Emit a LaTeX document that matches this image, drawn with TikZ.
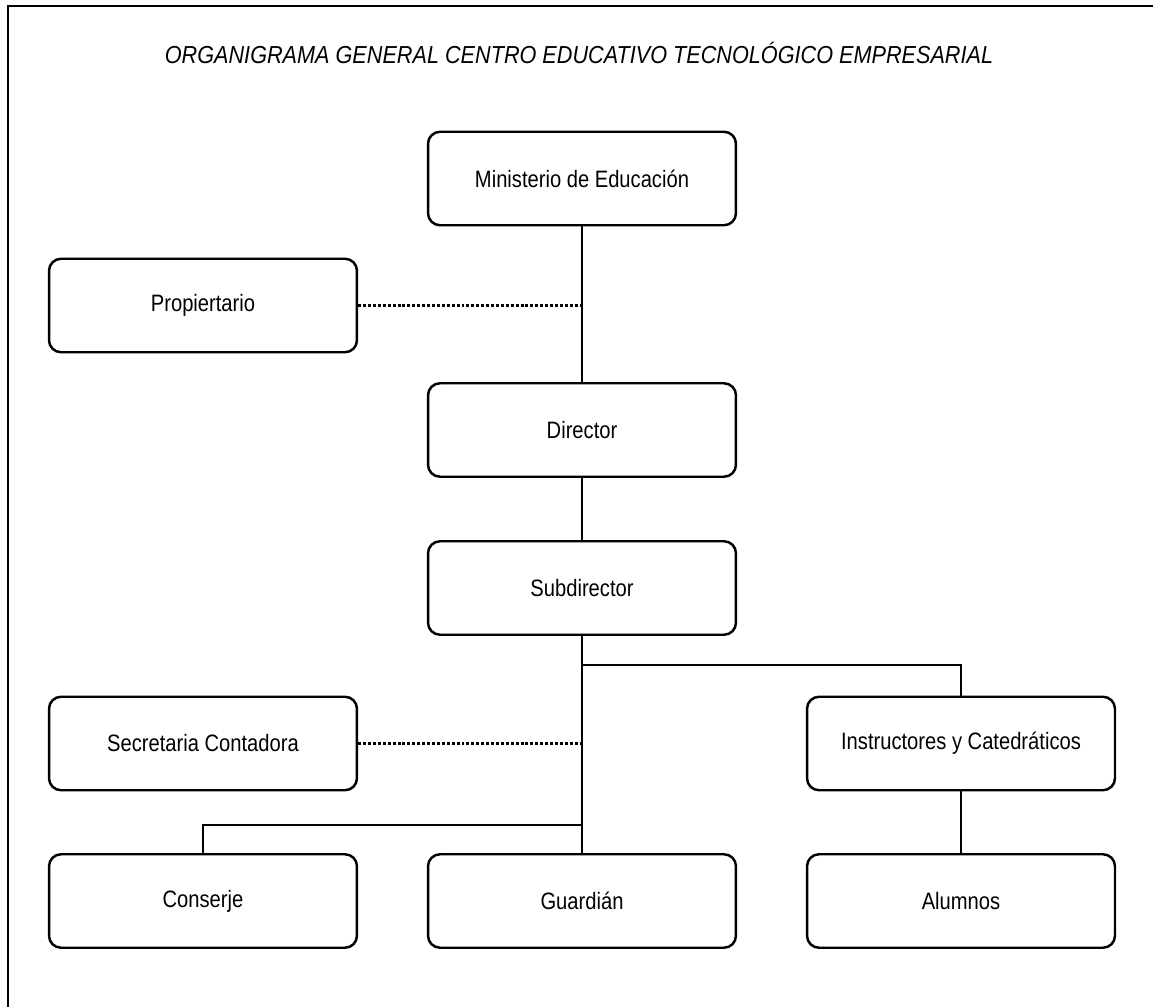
\documentclass[tikz,border=0pt]{standalone}
\usepackage{fontspec}
\setmainfont{Liberation Sans}
\newfontfamily\cargofont{Liberation Sans}[FakeStretch=0.85]
\newfontfamily\titulofont{Liberation Sans}[FakeStretch=0.88]
\usetikzlibrary{positioning}

\tikzset{
  cargo/.style={draw, line width=1.4pt, rounded corners=0.24cm, fill=white,
    minimum width=6.16cm, minimum height=1.87cm, inner sep=0pt,
    font=\cargofont\fontsize{13.5}{16}\selectfont},
  linea/.style={line width=1.1pt},
  punteado/.style={line width=1.7pt, dash pattern=on 1.7pt off 1.1pt},
  marco/.style={line width=1.7pt}
}

\begin{document}
\begin{tikzpicture}[x=0.02cm, y=-0.02cm]
	\useasboundingbox (0,0) rectangle (1153,1007);
	\draw[marco] (8,1007) -- (8,6) -- (1153,6);
	
	\node[font=\titulofont\itshape\fontsize{14}{17}\selectfont] (titulo) at (579,53) {ORGANIGRAMA GENERAL CENTRO EDUCATIVO TECNOLÓGICO EMPRESARIAL};
	
	% nivel superior
	\node[cargo] (mined) at (582,178.5) {Ministerio de Educación};
	\node[cargo] (prop) at (203,305.5) {Propiertario};
	\node[cargo] (dir) at (582,430) {Director};
	\node[cargo] (subdir) at (582,588) {Subdirector};
	
	% personal
	\node[cargo] (secr) at (203,743.5) {Secretaria Contadora};
	\node[cargo] (instr) at (961,743.5) {Instructores y Catedráticos};
	\node[cargo] (cons) at (203,901) {Conserje};
	\node[cargo] (guard) at (582,901) {Guardián};
	\node[cargo] (alum) at (961,901) {Alumnos};
	
	\coordinate (ramaD) at (582,665);
	\coordinate (ramaI) at (582,825);
	
	\draw[linea] (mined.south) -- (dir.north);
	\draw[linea] (dir.south) -- (subdir.north);
	\draw[linea] (subdir.south) -- (guard.north);
	\draw[linea] (ramaD) -| (instr.north);
	\draw[linea] (ramaI) -| (cons.north);
	\draw[linea] (instr.south) -- (alum.north);
	
	\draw[punteado] (prop.east) -- (prop.east -| mined.south);
	\draw[punteado] (secr.east) -- (secr.east -| subdir.south);
\end{tikzpicture}
\end{document}
